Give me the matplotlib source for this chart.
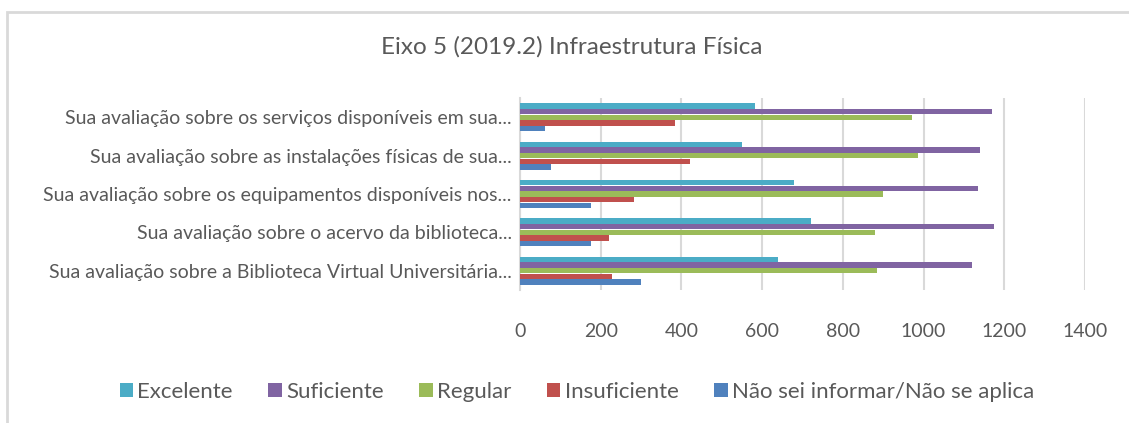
import numpy as np
import matplotlib.pyplot as plt
from matplotlib.patches import Rectangle

plt.rcParams['font.family'] = ['Lato', 'DejaVu Sans']

questions = ['Sua avaliação sobre os serviços disponíveis em sua...',
             'Sua avaliação sobre as instalações físicas de sua...',
             'Sua avaliação sobre os equipamentos disponíveis nos...',
             'Sua avaliação sobre o acervo da biblioteca...',
             'Sua avaliação sobre a Biblioteca Virtual Universitária...']
series_names = ['Excelente', 'Suficiente', 'Regular', 'Insuficiente',
                'Não sei informar/Não se aplica']
excelente = [582, 550, 680, 722, 640]
suficiente = [1170, 1139, 1136, 1174, 1121]
regular = [971, 985, 899, 879, 884]
insuficiente = [384, 420, 282, 221, 229]
nao_sei = [62, 78, 175, 176, 299]
x_ticks = [0, 200, 400, 600, 800, 1000, 1200, 1400]

colors = ['#4BACC6', '#8064A2', '#9BBB59', '#C0504D', '#4F81BD']
grey_text = '#595959'
grid_col = '#d9d9d9'

fig = plt.figure(figsize=(11.29, 4.23), dpi=100)
# chart border (cropped at right/bottom like the source)
fig.patches.append(Rectangle((7 / 1129, -0.1), 1.2, 1 - 12 / 423 + 0.1,
                             transform=fig.transFigure, fill=False,
                             edgecolor=grid_col, linewidth=2))

ax = fig.add_axes([520 / 1129, 1 - 290 / 423, 565 / 1129, 192 / 423])

all_series = [excelente, suficiente, regular, insuficiente, nao_sei]
y = np.arange(len(questions))
h = 0.148
for i, (vals, name, col) in enumerate(zip(all_series, series_names, colors)):
    ax.barh(y + (i - 2) * h, vals, height=h * 0.94, color=col, label=name,
            zorder=3)

ax.set_ylim(-0.5, len(questions) - 0.5)
ax.invert_yaxis()
ax.set_xlim(0, 1400)
ax.set_xticks(x_ticks)
ax.set_xticklabels([str(t) for t in x_ticks])
ax.set_yticks(y)
ax.set_yticklabels(questions)
ax.tick_params(axis='x', length=0, pad=24, labelsize=14, labelcolor=grey_text)
ax.tick_params(axis='y', length=0, pad=6, labelsize=14, labelcolor=grey_text)
ax.grid(axis='x', color=grid_col, linewidth=1.5, zorder=0)
for s in ['top', 'right', 'bottom']:
    ax.spines[s].set_visible(False)
ax.spines['left'].set_color(grid_col)
ax.spines['left'].set_linewidth(1.5)

fig.text(572 / 1129, 1 - 47 / 423, 'Eixo 5 (2019.2) Infraestrutura Física',
         ha='center', va='center', fontsize=17.5, color=grey_text)

handles, labels = ax.get_legend_handles_labels()
fig.legend(handles, labels, loc='center', bbox_to_anchor=(577 / 1129, 1 - 392 / 423),
           ncol=5, frameon=False, fontsize=16, labelcolor=grey_text,
           handlelength=0.6, handleheight=0.6, handletextpad=0.2,
           columnspacing=1.6)

fig.savefig('out.png', dpi=100)
